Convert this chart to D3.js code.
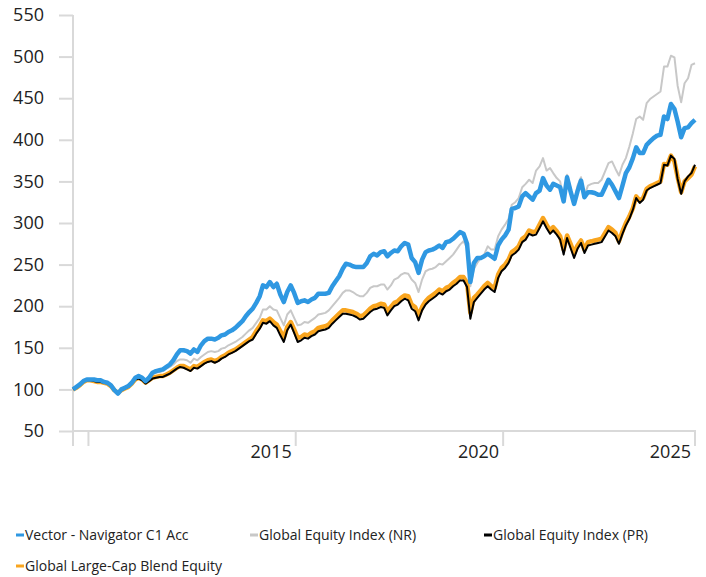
<!DOCTYPE html>
<html>
<head>
<meta charset="utf-8">
<script src="https://cdn.jsdelivr.net/npm/d3@7"></script>
<style>
  body { margin: 0; background: #fff; }
  svg { font-family: "Open Sans", "Noto Sans", sans-serif; }
</style>
</head>
<body>
<div id="chart"></div>
<script>
// monthly index values, Aug 2010 .. Aug 2025
const startMonth = "2010-08-01";

const vector = [
  100, 103, 106, 110, 112, 112, 112, 111, 111, 109, 108, 105, 99, 95, 100, 102, 104, 108, 114, 116,
  114, 110, 114, 120, 122, 123, 124, 127, 130, 135, 142, 147, 147, 146, 143, 148, 145, 153, 158, 161,
  161, 160, 162, 165, 166, 169, 171, 174, 178, 182, 188, 193, 197, 204, 212, 225, 223, 229, 223, 227,
  214, 205, 217, 225, 216, 204, 206, 207, 205, 208, 210, 215, 215, 215, 216, 224, 230, 236, 245, 251,
  250, 248, 247, 247, 247, 252, 260, 263, 261, 265, 266, 260, 264, 267, 266, 272, 276, 274, 258, 253,
  240, 256, 265, 267, 268, 270, 273, 270, 277, 278, 281, 285, 289, 287, 275, 229, 252, 258, 258, 260,
  263, 260, 257, 273, 280, 285, 292, 317, 318, 320, 332, 336, 332, 328, 336, 339, 354, 345, 340, 347,
  345, 343, 326, 355, 338, 323, 338, 351, 331, 337, 337, 336, 334, 334, 343, 352, 346, 338, 330, 345,
  360, 367, 378, 391, 384, 384, 394, 398, 402, 405, 406, 428, 425, 443, 437, 422, 403, 414, 415, 420,
  424
];

const equityNR = [
  100, 103, 106, 110, 111, 112, 111, 110, 110, 109, 108, 104, 99, 96, 100, 102, 104, 108, 113, 115,
  113, 109, 113, 118, 120, 121, 122, 125, 127, 130, 134, 136, 136, 135, 132, 137, 135, 139, 142, 145,
  146, 145, 146, 149, 150, 153, 155, 157, 160, 163, 167, 171, 174, 180, 186, 196, 196, 200, 196, 195,
  186, 177, 190, 195, 186, 177, 178, 181, 180, 183, 186, 190, 191, 192, 195, 200, 205, 210, 216, 219,
  219, 217, 214, 212, 212, 216, 222, 224, 224, 226, 226, 220, 225, 232, 234, 238, 240, 239, 232, 228,
  217, 232, 242, 244, 245, 247, 251, 250, 254, 258, 262, 268, 274, 278, 270, 224, 245, 252, 258, 262,
  272, 268, 268, 284, 292, 298, 305, 322, 325, 330, 343, 347, 352, 348, 363, 368, 378, 363, 366, 360,
  354, 350, 327, 358, 342, 325, 345, 355, 333, 345, 347, 348, 348, 352, 362, 372, 374, 365, 357, 370,
  378, 392, 408, 425, 428, 424, 444, 449, 452, 455, 458, 488, 488, 501, 499, 465, 445, 468, 474, 490,
  492
];

const equityPR = [
  100, 102, 105, 109, 111, 111, 110, 109, 109, 108, 107, 104, 99, 95, 99, 101, 103, 107, 112, 113,
  111, 107, 110, 113, 114, 115, 115, 117, 119, 122, 125, 127, 126, 124, 122, 126, 125, 128, 131, 133,
  134, 132, 134, 137, 139, 142, 144, 146, 149, 152, 155, 158, 160, 167, 173, 180, 179, 182, 177, 174,
  165, 157, 171, 178, 168, 157, 159, 162, 161, 164, 166, 170, 171, 172, 174, 179, 183, 187, 191, 191,
  190, 189, 187, 184, 185, 189, 193, 196, 197, 199, 198, 189, 195, 200, 202, 206, 209, 207, 197, 194,
  183, 195, 202, 206, 209, 212, 216, 214, 218, 220, 224, 227, 231, 231, 223, 185, 205, 210, 215, 220,
  224, 220, 217, 234, 242, 246, 252, 261, 264, 268, 277, 280, 287, 285, 286, 294, 302, 294, 287, 291,
  286, 280, 262, 282, 270, 258, 269, 276, 264, 273, 274, 275, 276, 277, 284, 291, 288, 284, 275, 287,
  297, 305, 316, 330, 324, 328, 339, 342, 344, 346, 348, 370, 369, 381, 377, 353, 335, 350, 356, 360,
  370
];

const largeCapBlend = [
  100, 102, 105, 109, 111, 111, 110, 109, 109, 108, 107, 104, 99, 96, 99, 101, 103, 107, 112, 114,
  112, 108, 111, 114, 115, 116, 116, 118, 120, 123, 126, 128, 128, 126, 124, 128, 127, 130, 133, 135,
  136, 134, 136, 139, 141, 144, 146, 148, 151, 154, 157, 160, 163, 170, 176, 183, 182, 185, 181, 178,
  170, 162, 175, 181, 172, 162, 163, 166, 165, 168, 170, 174, 175, 176, 178, 183, 187, 191, 195, 195,
  194, 193, 191, 188, 189, 193, 197, 200, 201, 203, 202, 194, 199, 204, 206, 210, 213, 212, 202, 199,
  189, 199, 206, 210, 213, 216, 220, 218, 222, 224, 228, 231, 235, 235, 228, 192, 210, 214, 219, 224,
  228, 224, 222, 238, 246, 250, 256, 265, 268, 272, 281, 284, 291, 289, 290, 298, 306, 298, 291, 295,
  290, 284, 268, 285, 275, 264, 273, 279, 268, 277, 278, 279, 280, 281, 288, 295, 292, 288, 278, 290,
  300, 308, 318, 332, 327, 330, 341, 344, 346, 348, 350, 371, 370, 381, 374, 355, 337, 350, 354, 358,
  368
];

const yTicks = [50, 100, 150, 200, 250, 300, 350, 400, 450, 500, 550];
const xTickDates = ["2010-12-15", "2015-12-15", "2020-12-15", "2025-08-01"];
const xTickLabels = ["", "2015", "2020", "2025"];

const series = [
  { name: "Vector - Navigator C1 Acc", values: vector, color: "#2f98e2", width: 4.5 },
  { name: "Global Equity Index (NR)", values: equityNR, color: "#c8c8c8", width: 2 },
  { name: "Global Equity Index (PR)", values: equityPR, color: "#000000", width: 2 },
  { name: "Global Large-Cap Blend Equity", values: largeCapBlend, color: "#f9a51f", width: 4.5 }
];

const w = 706;
const h = 577;
const axisColor = "#d9d9d9";

const svg = d3.select("#chart").append("svg")
  .attr("width", w)
  .attr("height", h);

const parse = d3.utcParse("%Y-%m-%d");
const start = parse(startMonth);
const dates = vector.map((d, i) => d3.utcMonth.offset(start, i));

const x = d3.scaleUtc()
  .domain([start, dates[dates.length - 1]])
  .range([73, 695]);

const y = d3.scaleLinear()
  .domain([50, 550])
  .range([431, 15]);

// y axis
const yAxis = svg.append("g")
  .attr("transform", "translate(73,0)")
  .call(d3.axisLeft(y).tickValues(yTicks).tickSize(14).tickSizeOuter(0).tickPadding(15));
yAxis.select(".domain").remove();
yAxis.selectAll(".tick line").attr("stroke", axisColor).attr("stroke-width", 2);
yAxis.selectAll(".tick text")
  .attr("fill", "#222")
  .attr("font-size", 18)
  .attr("font-family", "Open Sans, sans-serif");

svg.append("line")
  .attr("x1", 73).attr("x2", 73)
  .attr("y1", 15).attr("y2", 446)
  .attr("stroke", axisColor).attr("stroke-width", 2);

// x axis
svg.append("line")
  .attr("x1", 73).attr("x2", 696)
  .attr("y1", 431).attr("y2", 431)
  .attr("stroke", axisColor).attr("stroke-width", 2);

const xt = svg.append("g").selectAll("g")
  .data(xTickDates.map((d, i) => ({ date: parse(d), label: xTickLabels[i] })))
  .enter().append("g")
  .attr("transform", (d) => `translate(${x(d.date)},0)`);

xt.append("line")
  .attr("y1", 431).attr("y2", 446)
  .attr("stroke", axisColor).attr("stroke-width", 2);

xt.append("text")
  .attr("x", -4)
  .attr("y", 458)
  .attr("text-anchor", "end")
  .attr("font-size", 18)
  .attr("fill", "#222")
  .text((d) => d.label);

// lines
const line = d3.line()
  .x((d, i) => x(dates[i]))
  .y((d) => y(d));

const drawOrder = [1, 3, 2, 0];
svg.append("g").selectAll("path")
  .data(drawOrder.map((k) => series[k]))
  .enter().append("path")
  .attr("d", (s) => line(s.values))
  .attr("fill", "none")
  .attr("stroke", (s) => s.color)
  .attr("stroke-width", (s) => s.width)
  .attr("stroke-linejoin", "round");

// legend
const legendPos = [[16, 535], [250, 535], [484, 535], [16, 566]];
const legend = svg.append("g").selectAll("g")
  .data(series)
  .enter().append("g")
  .attr("transform", (d, i) => `translate(${legendPos[i][0]},${legendPos[i][1]})`);

legend.append("rect")
  .attr("x", 0).attr("y", -1.5)
  .attr("width", 8).attr("height", 3)
  .attr("fill", (d) => d.color);

legend.append("text")
  .attr("x", 9)
  .attr("y", 5)
  .attr("font-size", 14)
  .attr("fill", "#222")
  .text((d) => d.name);
</script>
</body>
</html>
